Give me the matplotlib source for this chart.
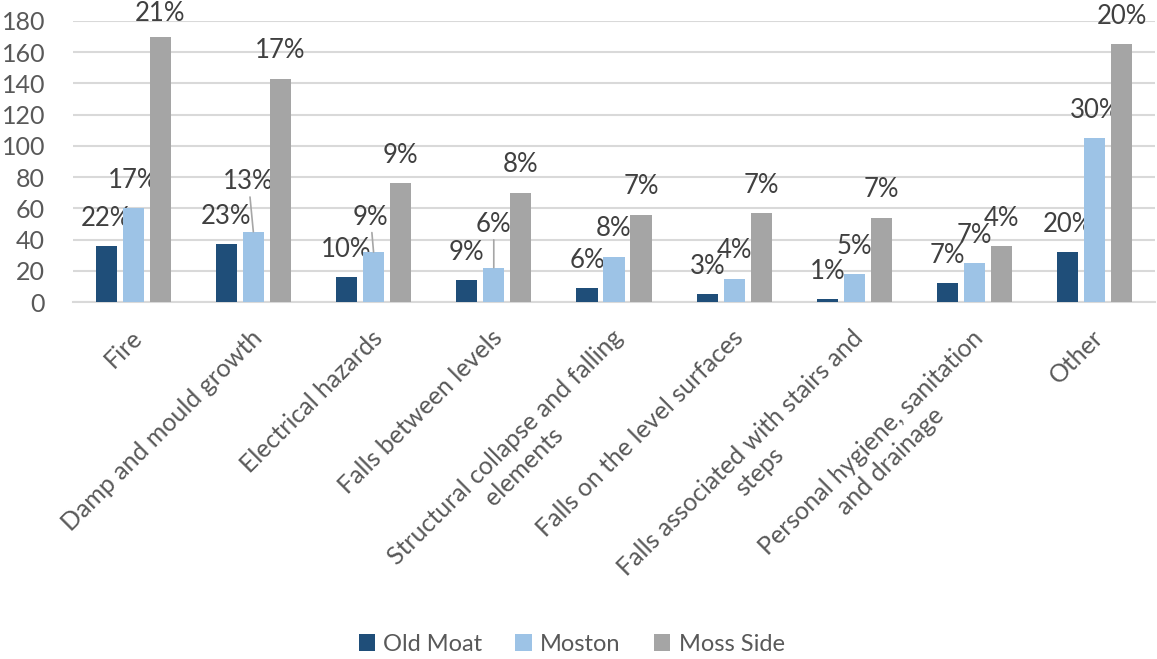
import matplotlib.pyplot as plt
import matplotlib.transforms as mtransforms
import numpy as np

plt.rcParams['font.family'] = ['Lato', 'DejaVu Sans']

categories = ["Fire", "Damp and mould growth", "Electrical hazards",
              "Falls between levels", "Structural collapse and falling\nelements",
              "Falls on the level surfaces", "Falls associated with stairs and\nsteps",
              "Personal hygiene, sanitation\nand drainage", "Other"]
series_names = ["Old Moat", "Moston", "Moss Side"]
old_moat = [36, 37, 16, 14, 9, 5, 2, 12, 32]
moston = [60, 45, 32, 22, 29, 15, 18, 25, 105]
moss_side = [170, 143, 76, 70, 56, 57, 54, 36, 165]
colors = ["#1f4e79", "#9dc3e6", "#a5a5a5"]

# labels pulled away from their bar: (series, category) -> (dx, dy) in points
moved = {(1, 1): (-4, 36), (1, 2): (-2, 25), (1, 3): (0, 31), (2, 0): (0, 16.5)}
leaders = [(1, 1), (1, 2), (1, 3)]

fig = plt.figure(figsize=(11.57, 6.59), dpi=100)
ax = fig.add_axes([73 / 1157, 357 / 659, 1082 / 1157, 281 / 659])

x = np.arange(len(categories))
width = 0.175
step = 0.2246
text_col = "#404040"

for i, (name, vals) in enumerate(zip(series_names, [old_moat, moston, moss_side])):
    pos = x + (i - 1) * step
    ax.bar(pos, vals, width, color=colors[i], label=name, zorder=3)
    total = sum(vals)
    for j, v in enumerate(vals):
        label = f"{round(100 * v / total)}%"
        dx, dy = moved.get((i, j), (0, 20))
        ax.annotate(label, (pos[j], v), xytext=(dx, dy), textcoords="offset points",
                    ha="center", va="center", fontsize=18.5, color=text_col,
                    annotation_clip=False, clip_on=False)
        if (i, j) in leaders:
            ax.annotate("", (pos[j], v), xytext=(dx * 0.6, dy - 11),
                        textcoords="offset points",
                        arrowprops=dict(arrowstyle="-", color="#a6a6a6", lw=1.2,
                                        shrinkA=0, shrinkB=0))

ax.set_xlim(-0.5, len(categories) - 0.5)
ax.set_ylim(0, 180)
ax.set_yticks(np.arange(0, 181, 20))
ax.yaxis.grid(True, color="#d9d9d9", lw=1.5, zorder=0)
ax.set_axisbelow(True)
for s in ["top", "right", "left"]:
    ax.spines[s].set_visible(False)
ax.spines["bottom"].set_color("#d9d9d9")
ax.spines["bottom"].set_linewidth(1.5)
ax.tick_params(axis="both", length=0, labelsize=18, colors="#595959")
ax.tick_params(axis="y", pad=20)
ax.set_xticks(x)
ax.set_xticklabels(categories, rotation=45, ha="right", rotation_mode="anchor",
                   multialignment="center", fontsize=18)
# push the slanted labels a little down and left of the tick
shift = mtransforms.ScaledTranslation(-0.03, -0.19, fig.dpi_scale_trans)
for lbl in ax.get_xticklabels():
    lbl.set_transform(lbl.get_transform() + shift)

fig.legend(loc="lower center", bbox_to_anchor=(0.494, -0.026), ncol=3, frameon=False,
           fontsize=17, handlelength=0.7, handleheight=0.7, columnspacing=1.4,
           handletextpad=0.35, labelcolor="#595959")

fig.savefig("out.png", dpi=100)
